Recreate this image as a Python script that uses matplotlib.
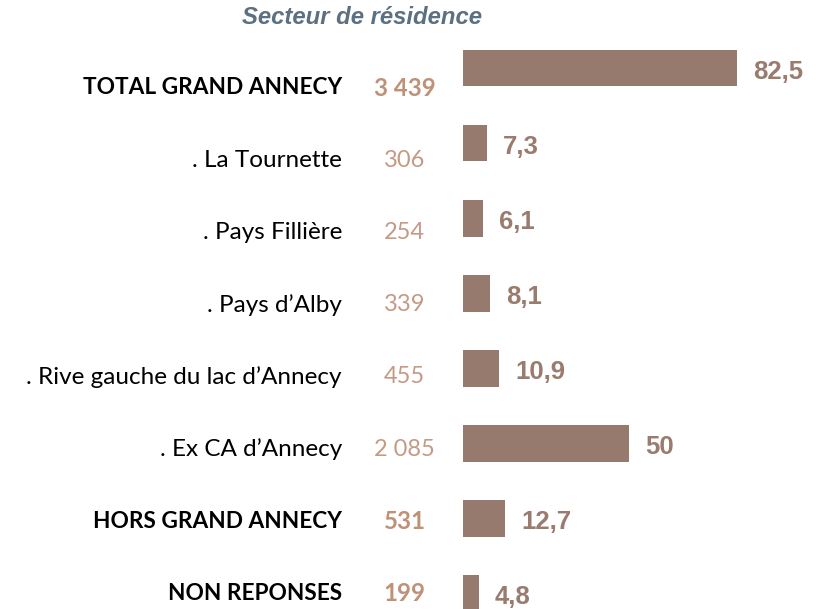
import matplotlib
matplotlib.use("Agg")
import matplotlib.pyplot as plt

# ---- data ----
categories = ["TOTAL GRAND ANNECY", ". La Tournette", ". Pays Fillière", ". Pays d\u2019Alby",
              ". Rive gauche du lac d\u2019Annecy", ". Ex CA d\u2019Annecy",
              "HORS GRAND ANNECY", "NON REPONSES"]
counts = ["3 439", "306", "254", "339", "455", "2 085", "531", "199"]
percents = [82.5, 7.3, 6.1, 8.1, 10.9, 50, 12.7, 4.8]
bold_rows = [True, False, False, False, False, False, True, True]
title = "Secteur de résidence"

W, H = 831, 609
DPI = 100
fig = plt.figure(figsize=(W / DPI, H / DPI), dpi=DPI)
fig.patch.set_facecolor("white")

def fx(px):
    return px / W

def fy(py):
    return 1 - py / H

# bar axes: bars centred at 68 px (first) with 75 px spacing
top_px, bot_px = 30.5, 608.5
left_px, right_px = 463, 463 + 3.32 * 110
ax = fig.add_axes([fx(left_px), fy(bot_px), fx(right_px) - fx(left_px), (bot_px - top_px) / H])
ax.set_xlim(0, 110)
ax.set_ylim(7.2, -0.5)
ax.axis("off")

bar_color = "#967a6d"
val_color = "#9a7c6f"
ypos = list(range(len(categories)))
ax.barh(ypos, percents, height=0.49, color=bar_color, edgecolor="none")
for y, v in zip(ypos, percents):
    txt = ("%g" % v).replace(".", ",")
    ax.annotate(txt, xy=(v, y), xytext=(11.5, -2.5), textcoords="offset points",
                ha="left", va="center", fontsize=18.5, fontweight="bold",
                color=val_color, family="Liberation Sans")

# label table (separate row spacing)
lab_font = "Lato"
for i, (c, n, b) in enumerate(zip(categories, counts, bold_rows)):
    y = 88 + i * 72.2
    fig.text(fx(342), fy(y), c, ha="right", va="center",
             fontsize=16.3 if b else 17.5,
             fontweight="bold" if b else "normal", color="black", family=lab_font)
    fig.text(fx(404.5), fy(y), n, ha="center", va="center",
             fontsize=17.3 if b else 17,
             fontweight="bold" if b else "normal",
             color="#bf9177" if b else "#c49a85", family=lab_font)

fig.text(fx(362), fy(17), title, ha="center", va="center", fontsize=17.2,
         fontweight="bold", fontstyle="italic", color="#5b7080", family="Liberation Sans")

fig.savefig("out.png", dpi=DPI, facecolor="white")
